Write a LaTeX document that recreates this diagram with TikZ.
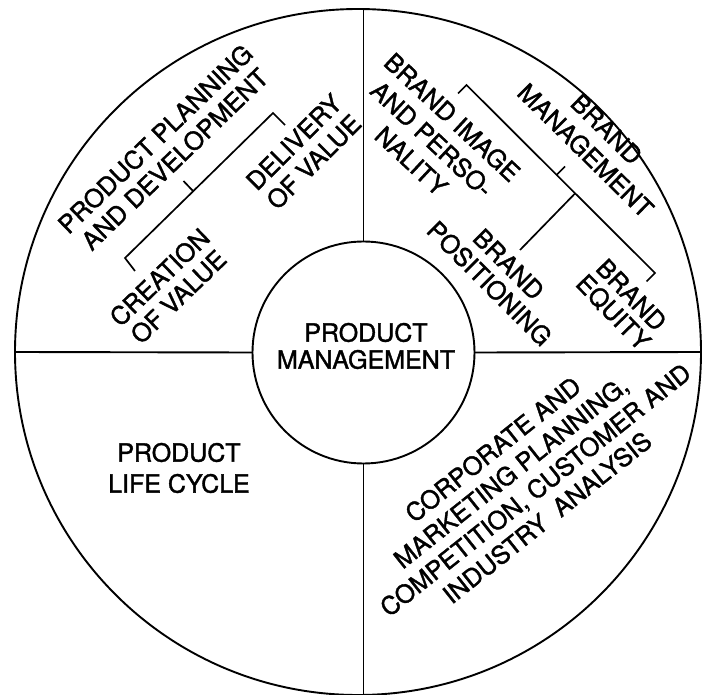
\documentclass[tikz,border=0pt]{standalone}
\usepackage{fontspec}
\setmainfont[FakeBold=1.5]{TeX Gyre Heros}
\begin{document}
\begin{tikzpicture}[x=1pt, y=-1pt, line width=1.9pt,
  every node/.style={inner sep=0pt, outer sep=0pt},
  lbl/.style={align=center, font=\fontsize{25}{#1}\selectfont},
  lbl/.default=28,
  ring/.style={circle, draw, line width=1.9pt},
  bracket/.style={line width=1.7pt}]
\useasboundingbox (0,0) rectangle (705,695);
\fill[white] (0,0) rectangle (705,695);

% outer wheel and central hub
\node[ring, minimum size=686] (rim) at (358,352) {};
\node[ring, minimum size=222] (hub) at (363.5,352.5) {};
\node[lbl=27] (hubtext) at (366,346) {PRODUCT\\MANAGEMENT};

% quadrant dividers
\draw (hub.north) -- (hub.north |- rim.north);
\draw (hub.south) -- (hub.south |- rim.south);
\draw (hub.west) -- (rim.west);
\draw (hub.east) -- (rim.east);

% upper-left quadrant
\node[lbl=28, rotate=44] (ppd) at (165,149) {PRODUCT PLANNING\\AND DEVELOPMENT};
\node[lbl=27, rotate=44] (cov) at (169,287) {CREATION\\OF VALUE};
\node[lbl=28, rotate=45] (dov) at (304,152) {DELIVERY\\OF VALUE};
\coordinate (pa) at (125,258);
\coordinate (pb) at (273,113);
\coordinate (pat) at (135,271);
\coordinate (pbt) at (285,125);
\coordinate (pm) at (193,191);
\coordinate (pmt) at (183.5,181);
\draw[bracket] (pat) -- (pa) -- (pb) -- (pbt);
\draw[bracket] (pm) -- (pmt);

% upper-right quadrant
\node[lbl=30, rotate=-43] (bip) at (432,139) {BRAND IMAGE\\AND PERSO-\\NALITY};
\node[lbl=30, rotate=-44.6] (bm) at (596,140) {BRAND\\MANAGEMENT};
\node[lbl=27, rotate=-45] (bpos) at (499,274) {BRAND\\POSITIONING};
\node[lbl=25, rotate=-46] (beq) at (622,304) {BRAND\\EQUITY};
\coordinate (ba) at (466.5,85);
\coordinate (bb) at (655,273);
\coordinate (bat) at (458,93.5);
\coordinate (bbt) at (646.5,281.5);
\coordinate (bm1) at (556.5,175);
\coordinate (bm1t) at (565,166.5);
\coordinate (bm2) at (575,193.5);
\coordinate (bm2t) at (520,250);
\draw[bracket] (bat) -- (ba) -- (bb) -- (bbt);
\draw[bracket] (bm1) -- (bm1t);
\draw[bracket] (bm2) -- (bm2t);

% lower-left quadrant
\node[lbl=31] (plc) at (179,468) {PRODUCT\\LIFE CYCLE};

% lower-right quadrant
\node[lbl=29, rotate=38.5] (cmp) at (520,483.5)
  {CORPORATE AND\\MARKETING PLANNING,\\\hspace*{16pt}COMPETITION, CUSTOMER AND\\INDUSTRY\ \ ANALYSIS};
\end{tikzpicture}
\end{document}
